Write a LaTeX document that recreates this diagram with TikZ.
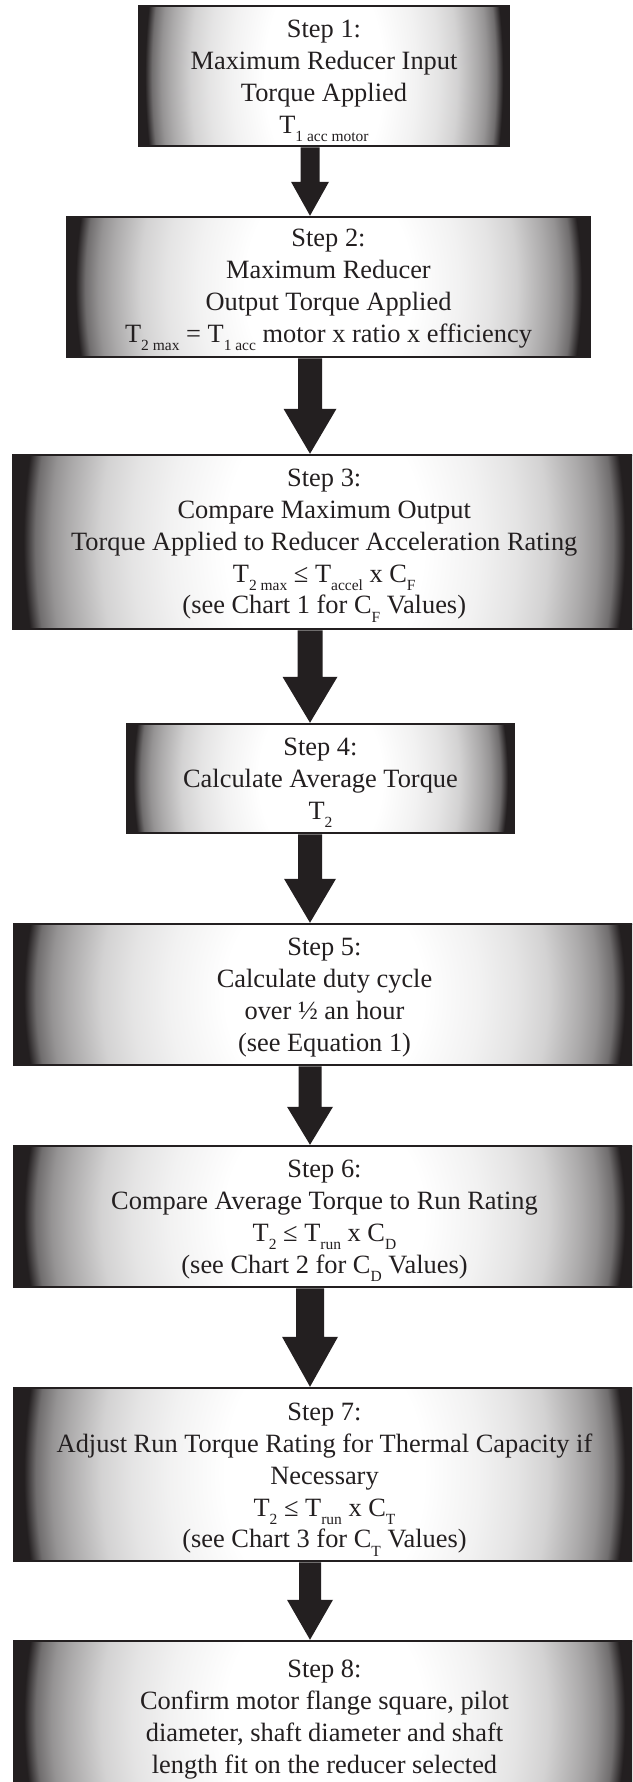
\documentclass[tikz,border=0pt]{standalone}
\usepackage{fontspec}
\setmainfont{Liberation Serif}
\usetikzlibrary{calc}
\definecolor{dk}{RGB}{35,31,32}
\pgfdeclareradialshading{vign}{\pgfpoint{0bp}{0bp}}{%
  color(0bp)=(white); color(8bp)=(white); color(12.5bp)=(white!94!dk);
  color(15.5bp)=(white!88!dk); color(18bp)=(white!80!dk); color(20.75bp)=(white!62!dk);
  color(22bp)=(white!52!dk); color(23.25bp)=(white!35!dk); color(24.2bp)=(dk); color(50bp)=(dk)}
\newcommand{\lsub}[1]{\raisebox{-8.5pt}{\fontsize{15.5pt}{15.5pt}\selectfont #1}}
\newcommand{\blockarrow}[5]{%
  \fill[arrowfill] let \p1=(#1.south -| ax), \p2=(#2.north -| ax) in
    ({\x1-#3pt},\y1) -- ({\x1+#3pt},\y1) -- ({\x1+#3pt},{\y2+#5pt}) -- ({\x1+#4pt},{\y2+#5pt})
    -- (\x2,\y2) -- ({\x1-#4pt},{\y2+#5pt}) -- ({\x1-#3pt},{\y2+#5pt}) -- cycle;}
\tikzset{
  stepbox/.style={rectangle, draw=dk, line width=2.5pt, inner sep=0pt,
    path picture={\shade[shading=vign]
      ($(path picture bounding box.north west)!-2!(path picture bounding box.south west)$)
      rectangle
      ($(path picture bounding box.south east)!-2!(path picture bounding box.north east)$);}},
  steptext/.style={anchor=north, align=center, inner sep=0pt, text=dk,
    font=\fontsize{26.4pt}{31.7pt}\selectfont},
  arrowfill/.style={fill=dk}
}
\begin{document}
\begin{tikzpicture}[x=1pt,y=1pt]
\useasboundingbox (0,0) rectangle (632,-1782);
\fill[white] (0,0) rectangle (632,-1782);
\clip (0,0) rectangle (632,-1782);
\coordinate (ax) at (310,0);

\node[stepbox, minimum width=370pt, minimum height=140pt] (b1) at (324,-76) {};
\node[stepbox, minimum width=523pt, minimum height=140pt] (b2) at (328.5,-287) {};
\node[stepbox, minimum width=621.5pt, minimum height=174pt] (b3) at (324.25,-542) {};
\node[stepbox, minimum width=387pt, minimum height=109pt] (b4) at (320.5,-778.5) {};
\node[stepbox, minimum width=621pt, minimum height=141pt] (b5) at (324.5,-994.5) {};
\node[stepbox, minimum width=621pt, minimum height=141pt] (b6) at (324.5,-1216.5) {};
\node[stepbox, minimum width=621pt, minimum height=173pt] (b7) at (324.5,-1474.5) {};
\node[stepbox, minimum width=621pt, minimum height=154pt] (b8) at (324.5,-1718) {};

\node[steptext] (t1) at ($(b1.north)+(0,-13)$) {\rule{0pt}{20pt}Step 1:\\Maximum Reducer Input\\Torque Applied\\T\lsub{1 acc motor}};
\node[steptext] (t2) at ($(b2.north)+(0,-11)$) {\rule{0pt}{20pt}Step 2:\\Maximum Reducer\\Output Torque Applied\\T\lsub{2 max} = T\lsub{1 acc} motor x ratio x efficiency};
\node[steptext] (t3) at ($(b3.north)+(0,-13)$) {\rule{0pt}{20pt}Step 3:\\Compare Maximum Output\\Torque Applied to Reducer Acceleration Rating\\T\lsub{2 max} ≤ T\lsub{accel} x C\lsub{F}\\(see Chart 1 for C\lsub{F} Values)};
\node[steptext] (t4) at ($(b4.north)+(0,-13)$) {\rule{0pt}{20pt}Step 4:\\Calculate Average Torque\\T\lsub{2}};
\node[steptext] (t5) at ($(b5.north)+(0,-13)$) {\rule{0pt}{20pt}Step 5:\\Calculate duty cycle\\over ½ an hour\\(see Equation 1)};
\node[steptext] (t6) at ($(b6.north)+(0,-13)$) {\rule{0pt}{20pt}Step 6:\\Compare Average Torque to Run Rating\\T\lsub{2} ≤ T\lsub{run} x C\lsub{D}\\(see Chart 2 for C\lsub{D} Values)};
\node[steptext] (t7) at ($(b7.north)+(0,-14)$) {\rule{0pt}{20pt}Step 7:\\Adjust Run Torque Rating for Thermal Capacity if\\Necessary\\T\lsub{2} ≤ T\lsub{run} x C\lsub{T}\\(see Chart 3 for C\lsub{T} Values)};
\node[steptext] (t8) at ($(b8.north)+(0,-18)$) {\rule{0pt}{20pt}Step 8:\\Confirm motor flange square, pilot\\diameter, shaft diameter and shaft\\length fit on the reducer selected};

\blockarrow{b1}{b2}{9.5}{19}{34}
\blockarrow{b2}{b3}{12}{26.5}{45}
\blockarrow{b3}{b4}{12.5}{27.5}{46}
\blockarrow{b4}{b5}{12}{26}{44}
\blockarrow{b5}{b6}{11.5}{23}{38}
\blockarrow{b6}{b7}{14}{28}{50}
\blockarrow{b7}{b8}{11}{23}{40}
\end{tikzpicture}
\end{document}
